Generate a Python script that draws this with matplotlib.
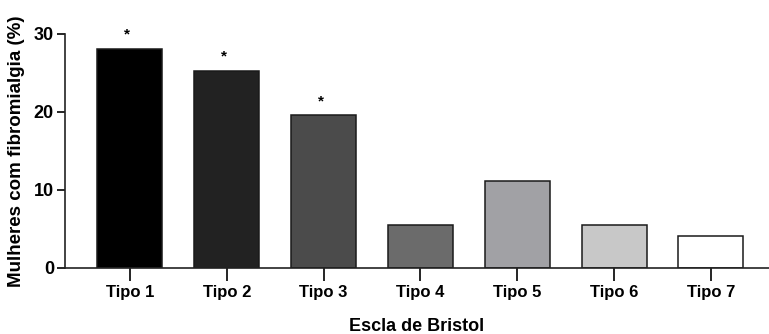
import matplotlib
matplotlib.use("Agg")
import matplotlib.pyplot as plt

categories = ["Tipo 1", "Tipo 2", "Tipo 3", "Tipo 4", "Tipo 5", "Tipo 6", "Tipo 7"]
values = [28.1, 25.3, 19.6, 5.5, 11.2, 5.5, 4.1]
significant = [True, True, True, False, False, False, False]
colors = ["#000000", "#222222", "#4b4b4b", "#6b6b6b", "#a1a1a5", "#c8c8c8", "#ffffff"]
yticks = [0, 10, 20, 30]

plt.rcParams['font.family'] = ['Liberation Sans', 'DejaVu Sans']
plt.rcParams['font.weight'] = 'bold'

fig = plt.figure(figsize=(7.69, 3.34), dpi=100)
ax = fig.add_axes([65/769, 66/334, 1 - 65/769, (268-34)/334])

x = list(range(len(categories)))
ax.bar(x, values, width=0.67, color=colors, edgecolor="#1a1a1a", linewidth=1.1, zorder=2)

for xi, v, s in zip(x, values, significant):
    if s:
        ax.annotate("*", (xi, v), xytext=(-3, 14), textcoords="offset pixels",
                    ha="center", va="center", fontsize=11, fontweight="bold")

ax.set_xlim(-0.67, 6.6)
ax.set_ylim(0, 30)
ax.set_yticks(yticks)
ax.set_xticks(x)
ax.set_xticklabels(categories, fontsize=12, fontweight="bold")
ax.tick_params(axis="y", labelsize=13, length=6, width=1.2, pad=2)
ax.tick_params(axis="x", length=9, width=1.2, pad=3)
for lab in ax.get_yticklabels():
    lab.set_fontweight("bold")

for side in ["top", "right"]:
    ax.spines[side].set_visible(False)
for side in ["left", "bottom"]:
    ax.spines[side].set_linewidth(1.2)
    ax.spines[side].set_color("#222222")

ax.set_xlabel("Escla de Bristol", fontsize=13, fontweight="bold", labelpad=13)
ax.set_ylabel("Mulheres com fibromialgia (%)", fontsize=13.5, fontweight="bold", labelpad=6)

fig.savefig("out.png", dpi=100)
